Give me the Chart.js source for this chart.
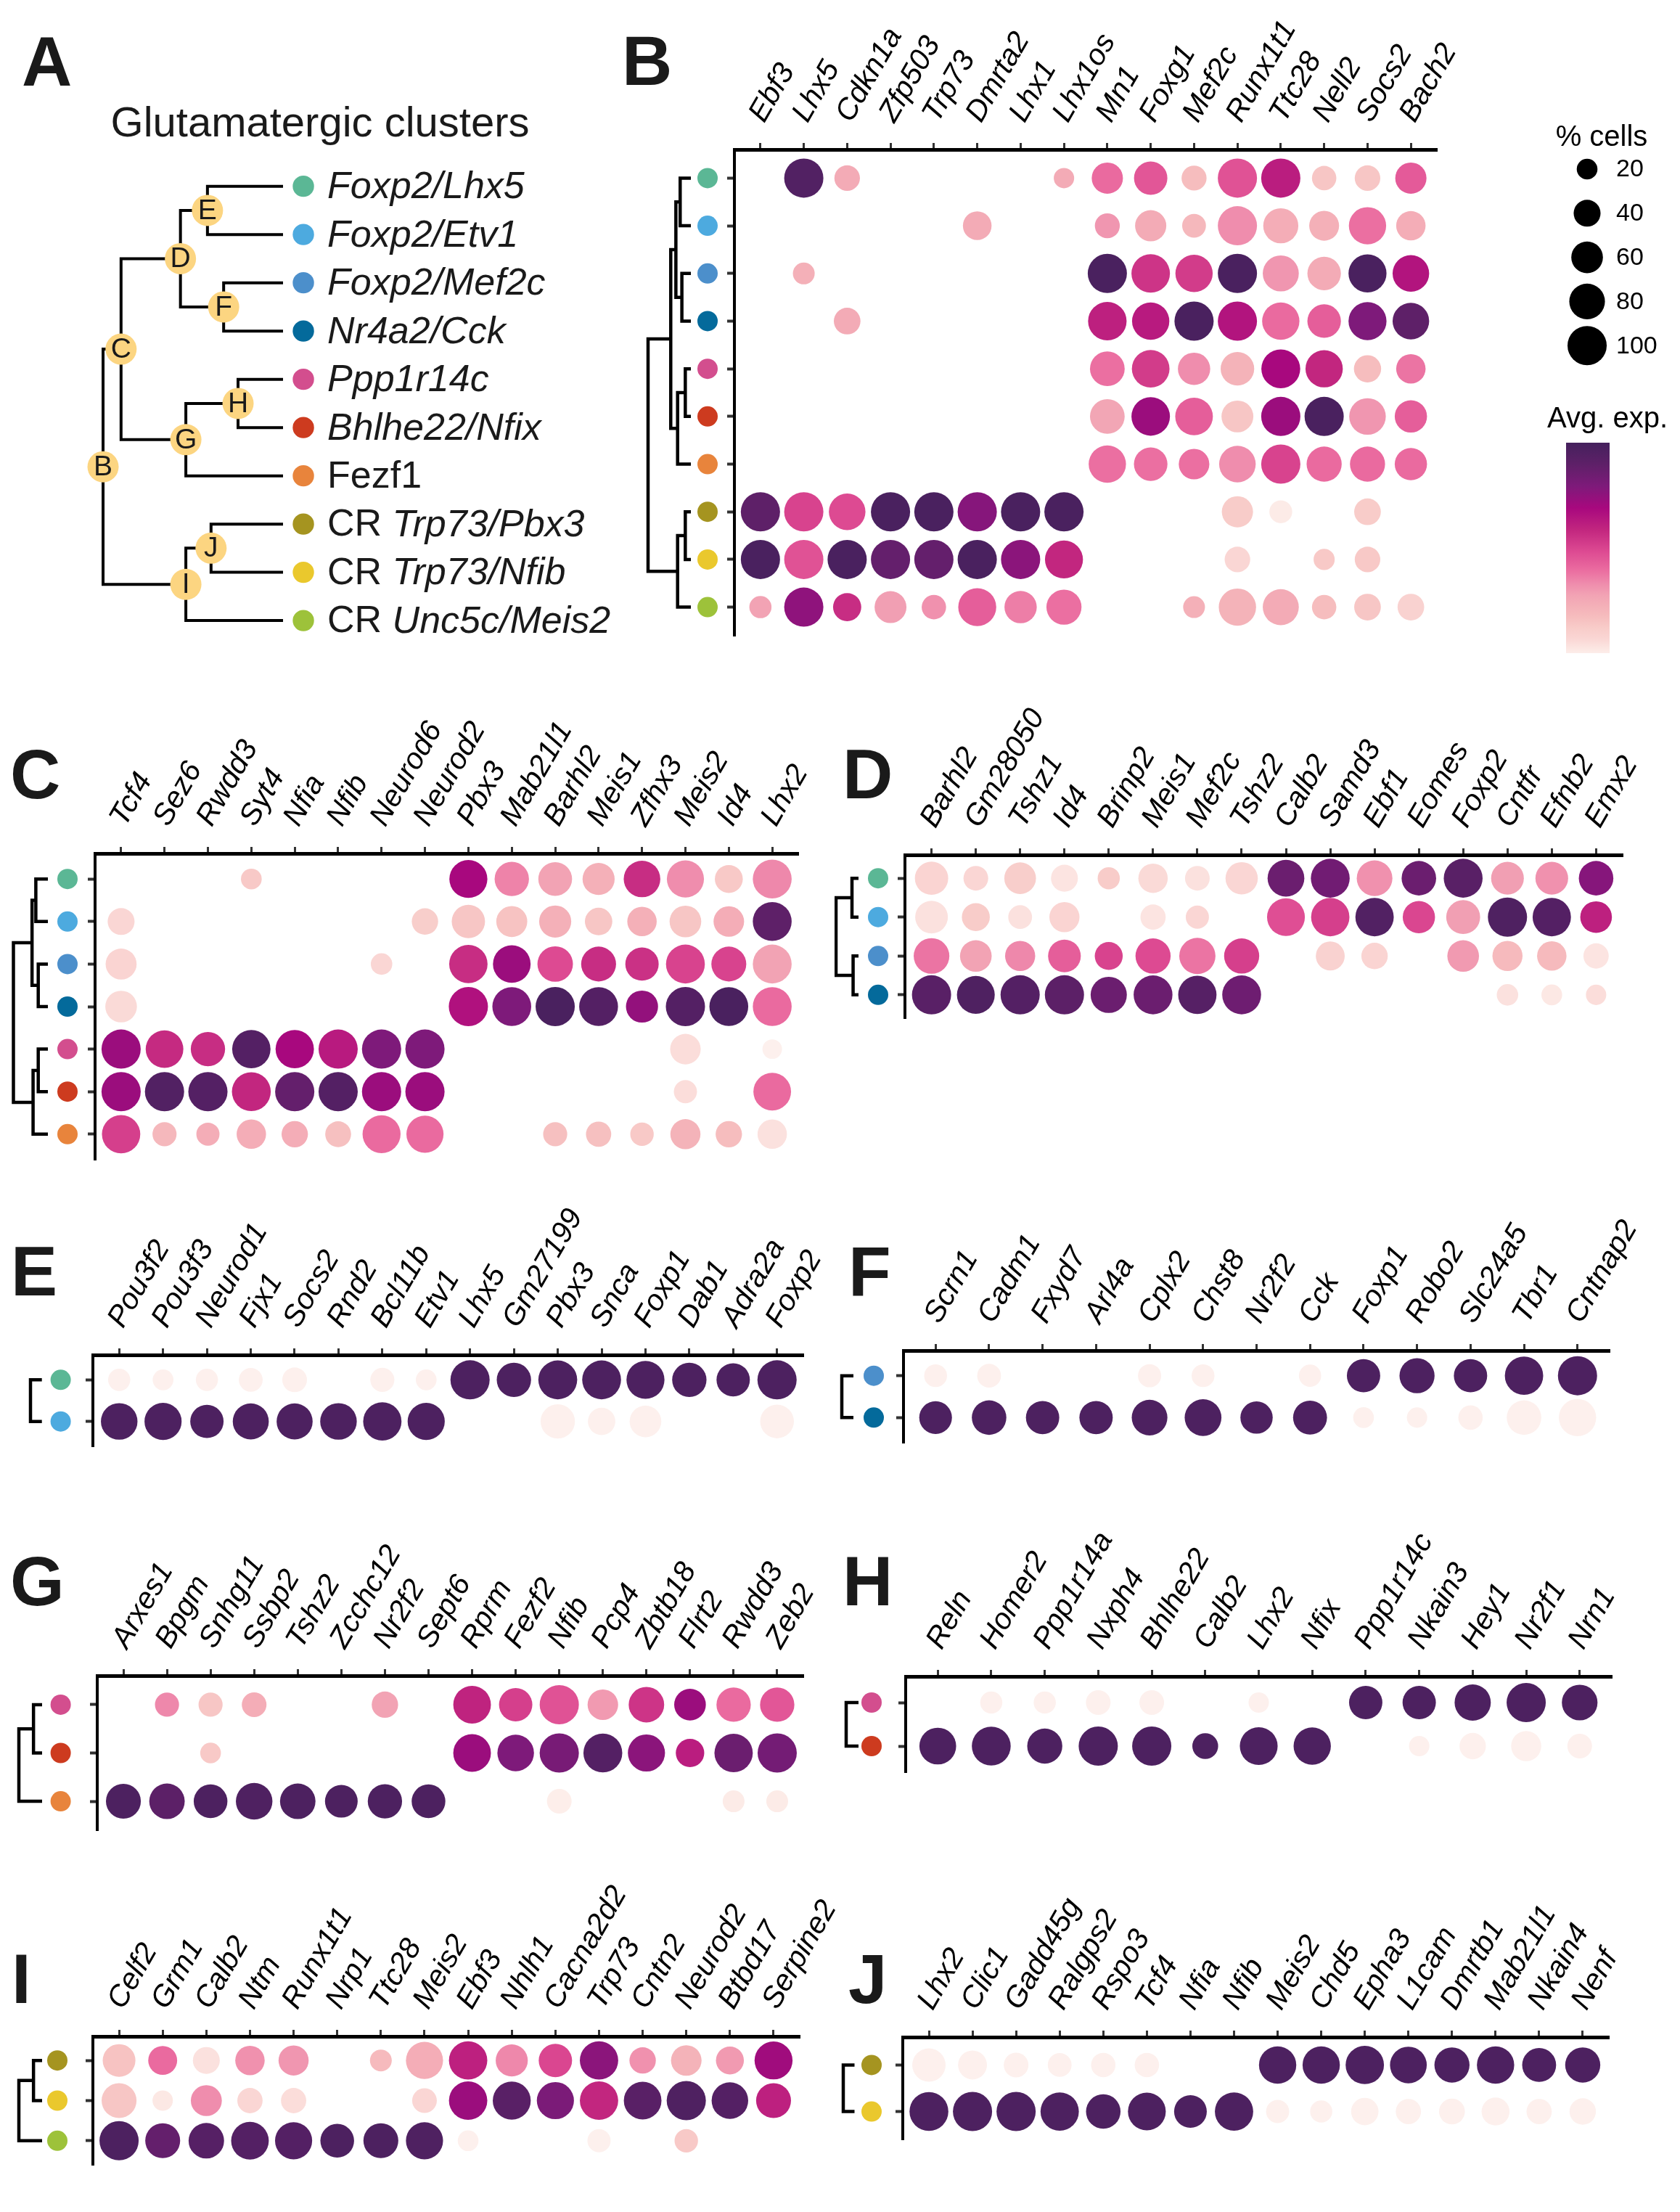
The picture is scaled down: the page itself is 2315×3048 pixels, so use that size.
<!DOCTYPE html>
<html>
<head>
<meta charset="utf-8">
<script src="https://cdn.jsdelivr.net/npm/chart.js"></script>
<style>
  html, body { margin: 0; padding: 0; background: #fff; }
  #page { position: relative; width: 2315px; height: 3048px; overflow: hidden; background: #fff; }
  #page canvas { position: absolute; }
</style>
</head>
<body>
<div id="page"></div>
<script>
const FONT = "'Liberation Sans', Arial, Helvetica, sans-serif";

// --- clusters (rows) ---
const clusterNames = ['Foxp2/Lhx5', 'Foxp2/Etv1', 'Foxp2/Mef2c', 'Nr4a2/Cck', 'Ppp1r14c', 'Bhlhe22/Nfix', 'Fezf1',
  'CR Trp73/Pbx3', 'CR Trp73/Nfib', 'CR Unc5c/Meis2'];
const clusterColors = ['#5BB795', '#4DAADF', '#4C8FCB', '#046A9B', '#D34E8E', '#CD3B1F', '#E8843C', '#A59420', '#EAC82D', '#9DC23A'];

// --- panel A tree (h = branch height, leaves = row index) ---
const treeA = { n: 'B', h: 0, c: [
  { n: 'C', h: 0.10, c: [
    { n: 'D', h: 0.43, c: [{ n: 'E', h: 0.58, c: [0, 1] }, { n: 'F', h: 0.67, c: [2, 3] }] },
    { n: 'G', h: 0.46, c: [{ n: 'H', h: 0.75, c: [4, 5] }, 6] }] },
  { n: 'I', h: 0.46, c: [{ n: 'J', h: 0.60, c: [7, 8] }, 9] }] };

// --- legend ---
const sizeBreaks = [20, 40, 60, 80, 100];
const expStops = [0, .05, .1, .15, .2, .25, .3, .35, .42, .5, .6, .7, .8, .9, 1];
const expColors = ['#FEF6F3', '#FCE8E4', '#FAD6D4', '#F8CCC9', '#F6BDBE', '#F4B0B8', '#F2A3B4', '#EF8DAD',
  '#EA6A9F', '#DD4A92', '#C2267F', '#A8087E', '#7E1A7A', '#5E2068', '#45215D'];

// --- panel B ---
const genesB = ['Ebf3', 'Lhx5', 'Cdkn1a', 'Zfp503', 'Trp73', 'Dmrta2', 'Lhx1', 'Lhx1os', 'Mn1', 'Foxg1', 'Mef2c', 'Runx1t1', 'Ttc28', 'Nell2', 'Socs2', 'Bach2'];
const rowsB = [0, 1, 2, 3, 4, 5, 6, 7, 8, 9];
const pctB = [
  [0, 100, 35, 0, 0, 0, 0, 19, 58, 68, 33, 100, 100, 31, 35, 58],
  [0, 0, 0, 0, 0, 47, 0, 0, 33, 58, 29, 100, 77, 52, 89, 50],
  [0, 23, 0, 0, 0, 0, 0, 0, 100, 96, 89, 100, 82, 69, 93, 85],
  [0, 0, 39, 0, 0, 0, 0, 0, 96, 89, 100, 100, 89, 69, 93, 85],
  [0, 0, 0, 0, 0, 0, 0, 0, 75, 91, 63, 69, 98, 89, 41, 50],
  [0, 0, 0, 0, 0, 0, 0, 0, 75, 96, 91, 61, 100, 100, 85, 63],
  [0, 0, 0, 0, 0, 0, 0, 0, 89, 69, 55, 85, 100, 77, 77, 63],
  [100, 100, 85, 100, 100, 100, 100, 100, 0, 0, 0, 58, 26, 0, 39, 0],
  [100, 100, 100, 100, 100, 100, 100, 93, 0, 0, 0, 35, 0, 21, 35, 0],
  [24, 100, 45, 61, 31, 93, 63, 77, 0, 0, 23, 89, 82, 31, 39, 39]];
const expB = [
  [0, .95, .27, 0, 0, 0, 0, .27, .42, .47, .2, .48, .63, .17, .17, .46],
  [0, 0, 0, 0, 0, .27, 0, 0, .33, .27, .22, .35, .26, .25, .41, .26],
  [0, .25, 0, 0, 0, 0, 0, 0, .98, .56, .54, .98, .33, .27, .98, .66],
  [0, 0, .27, 0, 0, 0, 0, 0, .62, .64, .98, .66, .42, .45, .8, .9],
  [0, 0, 0, 0, 0, 0, 0, 0, .41, .54, .35, .24, .7, .6, .2, .4],
  [0, 0, 0, 0, 0, 0, 0, 0, .29, .73, .45, .17, .73, .98, .33, .45],
  [0, 0, 0, 0, 0, 0, 0, 0, .41, .41, .41, .35, .52, .42, .42, .42],
  [.9, .52, .5, .98, .98, .78, .98, .98, 0, 0, 0, .15, .04, 0, .15, 0],
  [.98, .48, .98, .88, .88, .98, .77, .6, 0, 0, 0, .1, 0, .16, .16, 0],
  [.3, .76, .58, .31, .34, .45, .38, .41, 0, 0, .25, .24, .27, .2, .17, .12]];
const treeB = { h: 0, c: [
  { h: 0.53, c: [{ h: 0.65, c: [{ h: 0.75, c: [0, 1] }, { h: 0.79, c: [2, 3] }] }, { h: 0.69, c: [{ h: 0.87, c: [4, 5] }, 6] }] },
  { h: 0.69, c: [{ h: 0.87, c: [7, 8] }, 9] }] };

// --- panel C ---
const genesC = ['Tcf4', 'Sez6', 'Rwdd3', 'Syt4', 'Nfia', 'Nfib', 'Neurod6', 'Neurod2', 'Pbx3', 'Mab21l1', 'Barhl2', 'Meis1', 'Zfhx3', 'Meis2', 'Id4', 'Lhx2'];
const rowsC = [0, 1, 2, 3, 4, 5, 6];
const pctC = [
  [0, 0, 0, 20, 0, 0, 0, 0, 93, 73, 70, 62, 85, 88, 44, 98],
  [40, 0, 0, 0, 0, 0, 0, 38, 68, 57, 62, 42, 50, 60, 55, 98],
  [57, 0, 0, 0, 0, 0, 22, 0, 95, 91, 79, 76, 68, 98, 76, 98],
  [60, 0, 0, 0, 0, 0, 0, 0, 100, 98, 100, 98, 62, 100, 98, 98],
  [100, 91, 73, 95, 95, 100, 100, 100, 0, 0, 0, 0, 0, 55, 0, 17],
  [100, 100, 100, 98, 100, 100, 100, 100, 0, 0, 0, 0, 0, 27, 0, 91],
  [95, 30, 27, 50, 38, 36, 93, 88, 0, 0, 30, 34, 28, 53, 38, 50]];
const expC = [
  [0, 0, 0, .16, 0, 0, 0, 0, .7, .37, .3, .25, .58, .35, .16, .36],
  [.1, 0, 0, 0, 0, 0, 0, .14, .17, .18, .25, .17, .25, .17, .26, .9],
  [.11, 0, 0, 0, 0, 0, .1, 0, .58, .73, .5, .58, .57, .52, .52, .3],
  [.09, 0, 0, 0, 0, 0, 0, 0, .67, .8, .98, .94, .75, .94, .98, .42],
  [.73, .59, .58, .94, .7, .64, .8, .8, 0, 0, 0, 0, 0, .08, 0, .02],
  [.73, .95, .94, .6, .88, .94, .73, .73, 0, 0, 0, 0, 0, .08, 0, .42],
  [.53, .22, .26, .26, .26, .19, .42, .42, 0, 0, .19, .19, .16, .24, .2, .07]];
const treeC = { h: 0, c: [{ h: 0.54, c: [{ h: 0.65, c: [0, 1] }, { h: 0.72, c: [2, 3] }] }, { h: 0.57, c: [{ h: 0.72, c: [4, 5] }, 6] }] };

// --- panel D ---
const genesD = ['Barhl2', 'Gm28050', 'Tshz1', 'Id4', 'Brinp2', 'Meis1', 'Mef2c', 'Tshz2', 'Calb2', 'Samd3', 'Ebf1', 'Eomes', 'Foxp2', 'Cntfr', 'Efnb2', 'Emx2'];
const rowsD = [0, 1, 2, 3];
const pctD = [
  [68, 32, 60, 40, 24, 50, 32, 63, 86, 98, 80, 74, 98, 65, 65, 74],
  [65, 44, 29, 53, 0, 34, 27, 0, 92, 95, 95, 63, 71, 100, 95, 60],
  [80, 60, 53, 65, 44, 77, 83, 77, 0, 48, 38, 0, 60, 53, 50, 34],
  [100, 92, 100, 100, 83, 98, 95, 98, 0, 0, 0, 0, 0, 22, 20, 19]];
const expD = [
  [.11, .1, .14, .06, .15, .09, .07, .1, .86, .84, .34, .86, .92, .31, .34, .78],
  [.07, .15, .07, .11, 0, .06, .1, 0, .49, .53, .95, .51, .31, .96, .94, .62],
  [.4, .3, .36, .45, .52, .5, .4, .53, 0, .12, .11, 0, .32, .21, .21, .06],
  [.92, .96, .94, .91, .86, .86, .93, .85, 0, 0, 0, 0, 0, .07, .05, .08]];
const treeD = { h: 0, c: [{ h: 0.71, c: [0, 1] }, { h: 0.76, c: [2, 3] }] };

// --- panel E ---
const genesE = ['Pou3f2', 'Pou3f3', 'Neurod1', 'Fjx1', 'Socs2', 'Rnd2', 'Bcl11b', 'Etv1', 'Lhx5', 'Gm27199', 'Pbx3', 'Snca', 'Foxp1', 'Dab1', 'Adra2a', 'Foxp2'];
const rowsE = [0, 1];
const pctE = [
  [24, 20, 24, 29, 32, 0, 30, 20, 100, 73, 98, 98, 93, 73, 68, 100],
  [85, 88, 68, 82, 82, 85, 95, 88, 0, 0, 73, 42, 60, 0, 0, 70]];
const expE = [
  [.02, .02, .02, .02, .02, 0, .02, .02, .97, .97, .97, .97, .97, .97, .97, .97],
  [.97, .97, .97, .97, .97, .97, .97, .97, 0, 0, .02, .02, .02, 0, 0, .02]];
const treeE = { h: 0, c: [0, 1] };

// --- panel F ---
const genesF = ['Scrn1', 'Cadm1', 'Fxyd7', 'Arl4a', 'Cplx2', 'Chst8', 'Nr2f2', 'Cck', 'Foxp1', 'Robo2', 'Slc24a5', 'Tbr1', 'Cntnap2'];
const rowsF = [2, 3];
const pctF = [
  [26, 29, 0, 0, 27, 26, 0, 24, 68, 77, 68, 95, 100],
  [65, 74, 68, 68, 80, 86, 63, 71, 20, 19, 31, 74, 89]];
const expF = [
  [.02, .02, 0, 0, .02, .02, 0, .02, .97, .97, .97, .97, .97],
  [.97, .97, .97, .97, .97, .97, .97, .97, .02, .02, .02, .02, .02]];
const treeF = { h: 0, c: [0, 1] };

// --- panel G ---
const genesG = ['Arxes1', 'Bpgm', 'Snhg11', 'Ssbp2', 'Tshz2', 'Zcchc12', 'Nr2f2', 'Sept6', 'Rprm', 'Fezf2', 'Nfib', 'Pcp4', 'Zbtb18', 'Flrt2', 'Rwdd3', 'Zeb2'];
const rowsG = [4, 5, 6];
const pctG = [
  [0, 30, 30, 32, 0, 0, 38, 0, 91, 68, 100, 55, 79, 60, 73, 73],
  [0, 0, 20, 0, 0, 0, 0, 0, 91, 85, 100, 98, 88, 46, 95, 100],
  [76, 79, 70, 85, 79, 65, 73, 70, 0, 0, 32, 0, 0, 0, 23, 23]];
const expG = [
  [0, .36, .17, .26, 0, 0, .3, 0, .61, .53, .48, .32, .56, .73, .42, .47],
  [0, 0, .16, 0, 0, 0, 0, 0, .73, .8, .82, .94, .77, .63, .86, .83],
  [.97, .91, .97, .96, .97, .97, .97, .97, 0, 0, .03, 0, 0, 0, .04, .04]];
const treeG = { h: 0, c: [{ h: 0.63, c: [0, 1] }, 2] };

// --- panel H ---
const genesH = ['Reln', 'Homer2', 'Ppp1r14a', 'Nxph4', 'Bhlhe22', 'Calb2', 'Lhx2', 'Nfix', 'Ppp1r14c', 'Nkain3', 'Hey1', 'Nr2f1', 'Nrn1'];
const rowsH = [4, 5];
const pctH = [
  [0, 24, 24, 32, 32, 0, 19, 0, 68, 68, 83, 100, 80],
  [86, 98, 77, 100, 100, 36, 92, 89, 0, 19, 38, 53, 32]];
const expH = [
  [0, .02, .02, .02, .02, 0, .02, 0, .97, .97, .97, .97, .97],
  [.97, .97, .97, .97, .97, .97, .97, .97, 0, .02, .02, .02, .02]];
const treeH = { h: 0, c: [0, 1] };

// --- panel I ---
const genesI = ['Celf2', 'Grm1', 'Calb2', 'Ntm', 'Runx1t1', 'Nrp1', 'Ttc28', 'Meis2', 'Ebf3', 'Nhlh1', 'Cacna2d2', 'Trp73', 'Cntn2', 'Neurod2', 'Btbd17', 'Serpine2'];
const rowsI = [7, 8, 9];
const pctI = [
  [65, 48, 40, 50, 53, 0, 23, 88, 95, 62, 68, 95, 38, 55, 44, 93],
  [76, 19, 57, 34, 34, 0, 0, 32, 95, 93, 88, 95, 91, 100, 85, 76],
  [100, 76, 79, 91, 88, 70, 76, 88, 20, 0, 0, 27, 0, 28, 0, 0]];
const expI = [
  [.18, .42, .07, .34, .33, 0, .21, .26, .62, .36, .51, .77, .34, .24, .32, .72],
  [.17, .05, .35, .1, .08, 0, 0, .1, .73, .92, .81, .6, .92, .96, .94, .62],
  [.97, .88, .93, .94, .94, .97, .97, .96, .02, 0, 0, .02, 0, .16, 0, 0]];
const treeI = { h: 0, c: [{ h: 0.63, c: [0, 1] }, 2] };

// --- panel J ---
const genesJ = ['Lhx2', 'Clic1', 'Gadd45g', 'Ralgps2', 'Rspo3', 'Tcf4', 'Nfia', 'Nfib', 'Meis2', 'Chd5', 'Epha3', 'L1cam', 'Dmrtb1', 'Mab21l1', 'Nkain4', 'Nenf'];
const rowsJ = [7, 8];
const pctJ = [
  [68, 48, 32, 29, 31, 31, 0, 0, 89, 89, 95, 86, 77, 89, 71, 77],
  [98, 100, 100, 95, 74, 92, 65, 95, 27, 24, 42, 34, 36, 44, 34, 38]];
const expJ = [
  [.02, .02, .02, .02, .02, .02, 0, 0, .97, .97, .97, .97, .97, .97, .97, .97],
  [.97, .97, .97, .97, .97, .97, .97, .97, .02, .02, .02, .02, .02, .02, .02, .02]];
const treeJ = { h: 0, c: [0, 1] };

// ---------- helpers ----------
const page = document.getElementById('page');

function makeCanvas(l, t, w, h) {
  const c = document.createElement('canvas');
  c.width = w; c.height = h;
  c.style.left = l + 'px'; c.style.top = t + 'px';
  c.style.width = w + 'px'; c.style.height = h + 'px';
  page.appendChild(c);
  return c;
}

// bubble radius from % cells
const sizeFor = p => 4 + 23 * Math.sqrt(p / 100);

function hexRgb(h) {
  const n = parseInt(h.slice(1), 16);
  return [(n >> 16) & 255, (n >> 8) & 255, n & 255];
}
function expColor(e) {
  let i = 0;
  while (i < expStops.length - 2 && e > expStops[i + 1]) i++;
  const t = Math.min(1, Math.max(0, (e - expStops[i]) / (expStops[i + 1] - expStops[i])));
  const a = hexRgb(expColors[i]), b = hexRgb(expColors[i + 1]);
  const c = a.map((v, k) => Math.round(v + (b[k] - v) * t));
  return `rgb(${c[0]},${c[1]},${c[2]})`;
}

// dendrogram -> elbow polylines in (height, row) space
function layoutTree(tree, leafH) {
  const lines = [], nodes = [];
  (function walk(n) {
    if (typeof n === 'number') return { x: leafH, y: n };
    const kids = n.c.map(walk);
    const y = kids.reduce((s, k) => s + k.y, 0) / kids.length;
    const first = kids[0], last = kids[kids.length - 1];
    lines.push([{ x: first.x, y: first.y }, { x: n.h, y: first.y }, { x: n.h, y: last.y }, { x: last.x, y: last.y }]);
    nodes.push({ x: n.h, y: y, n: n.n });
    return { x: n.h, y: y };
  })(tree);
  return { lines, nodes };
}

function drawLetter(ctx, letter, x, y) {
  ctx.save();
  ctx.fillStyle = '#1a1a1a';
  ctx.font = `bold 96px ${FONT}`;
  ctx.textAlign = 'left';
  ctx.textBaseline = 'alphabetic';
  ctx.fillText(letter, x, y);
  ctx.restore();
}

// ---------- panel A: cluster tree ----------
(function () {
  const T = layoutTree(treeA, 1);
  const dotH = 1.113, labelH = 1.246;
  const cv = makeCanvas(0, 0, 860, 900);
  new Chart(cv, {
    type: 'scatter',
    data: {
      datasets: [
        ...T.lines.map(pts => ({
          data: pts, showLine: true, borderColor: '#000', borderWidth: 4,
          pointRadius: 0, pointHoverRadius: 0, borderJoinStyle: 'miter', borderCapStyle: 'butt', order: 3
        })),
        { data: T.nodes, pointRadius: 21.5, pointHoverRadius: 21.5, backgroundColor: '#FCD581', borderWidth: 0, order: 1 },
        { data: clusterNames.map((c, i) => ({ x: dotH, y: i })), pointRadius: 14.7, pointHoverRadius: 14.7,
          backgroundColor: clusterColors, borderWidth: 0, order: 1 }
      ]
    },
    options: {
      responsive: false, animation: false, devicePixelRatio: 1, events: [],
      layout: { padding: 0, autoPadding: false },
      plugins: { legend: { display: false }, tooltip: { enabled: false } },
      scales: {
        x: { type: 'linear', display: false, min: -0.5726, max: 2.895 },
        y: { type: 'linear', display: false, reverse: true, min: -3.86, max: 9.675 }
      }
    },
    plugins: [{
      id: 'treeText',
      afterDatasetsDraw(chart) {
        const ctx = chart.ctx, xs = chart.scales.x, ys = chart.scales.y;
        const meta = chart.getDatasetMeta(T.lines.length);
        ctx.save();
        ctx.fillStyle = '#1a1a1a';
        ctx.font = `39px ${FONT}`;
        ctx.textAlign = 'center';
        ctx.textBaseline = 'middle';
        meta.data.forEach((pt, k) => ctx.fillText(T.nodes[k].n, pt.x, pt.y + 1));
        ctx.textAlign = 'left';
        const lx = xs.getPixelForValue(labelH);
        clusterNames.forEach((name, i) => {
          const y = ys.getPixelForValue(i) + 2;
          let x = lx, rest = name;
          if (name.startsWith('CR ')) {
            ctx.font = `52px ${FONT}`;
            ctx.fillText('CR ', x, y);
            x += ctx.measureText('CR ').width;
            rest = name.slice(3);
          }
          ctx.font = (name === 'Fezf1' ? '' : 'italic ') + `52px ${FONT}`;
          ctx.fillText(rest, x, y);
        });
        ctx.textAlign = 'center';
        ctx.textBaseline = 'alphabetic';
        ctx.font = `58px ${FONT}`;
        ctx.fillText('Glutamatergic clusters', 441, 188);
        ctx.restore();
        drawLetter(ctx, 'A', 30, 118);
      }
    }]
  });
})();

// ---------- dot plots B-J ----------
function dotPlot(p) {
  const cv = makeCanvas(p.left, p.top, p.width, p.height);
  const pts = [];
  p.pct.forEach((row, j) => row.forEach((v, i) => {
    if (v > 0) pts.push({ x: i, y: j, r: sizeFor(v), e: p.exp[j][i] });
  }));
  const T = layoutTree(p.tree, 1);
  const ox = p.left, oy = p.top;
  return new Chart(cv, {
    type: 'bubble',
    data: {
      datasets: [{
        data: pts, clip: false, borderWidth: 0, hoverBorderWidth: 0,
        backgroundColor: c => expColor(c.raw ? c.raw.e : 0)
      }]
    },
    options: {
      responsive: false, animation: false, devicePixelRatio: 1, events: [],
      layout: {
        autoPadding: false,
        padding: { left: p.axisX - p.left - 12, top: 0, right: p.left + p.width - p.right, bottom: p.top + p.height - p.bottom }
      },
      plugins: { legend: { display: false }, tooltip: { enabled: false } },
      scales: {
        x: {
          type: 'linear', position: 'top', min: -0.6, max: p.genes.length - 0.4,
          afterBuildTicks: s => { s.ticks = p.genes.map((g, i) => ({ value: i })); },
          afterFit: s => { s.height = p.axisY - p.top; },
          ticks: {
            callback: v => p.genes[v], autoSkip: false, minRotation: 60, maxRotation: 60, padding: 20,
            labelOffset: 38, color: '#000', font: { family: FONT, size: 41, style: 'italic' }
          },
          grid: { drawOnChartArea: false, tickLength: 9, tickWidth: 3, tickColor: '#333' },
          border: { display: true, color: '#000', width: 5 }
        },
        y: {
          type: 'linear', reverse: true, min: -0.6, max: p.rows.length - 0.4,
          afterBuildTicks: s => { s.ticks = p.rows.map((r, i) => ({ value: i })); },
          afterFit: s => { s.width = 12; },
          ticks: { display: false },
          grid: { drawOnChartArea: false, tickLength: 10, tickWidth: 4, tickColor: '#333' },
          border: { display: true, color: '#000', width: 4 }
        }
      }
    },
    plugins: [{
      id: 'rowsTree',
      afterDraw(chart) {
        const ctx = chart.ctx, ys = chart.scales.y;
        const hx = h => p.rootX - ox + h * (p.leafX - p.rootX);
        ctx.save();
        ctx.strokeStyle = '#000';
        ctx.lineWidth = 4.5;
        ctx.lineJoin = 'miter';
        ctx.lineCap = 'butt';
        T.lines.forEach(line => {
          ctx.beginPath();
          line.forEach((q, k) => {
            const X = hx(q.x), Y = ys.getPixelForValue(q.y);
            if (k) ctx.lineTo(X, Y); else ctx.moveTo(X, Y);
          });
          ctx.stroke();
        });
        p.rows.forEach((ci, j) => {
          ctx.fillStyle = clusterColors[ci];
          ctx.beginPath();
          ctx.arc(p.dotX - ox, ys.getPixelForValue(j), 14, 0, Math.PI * 2);
          ctx.fill();
        });
        ctx.restore();
        drawLetter(ctx, p.letter, p.letterX - ox, p.letterY - oy);
        if (p.legend) p.legend(ctx, ox, oy);
      }
    }]
  });
}

function drawLegend(ctx, ox, oy) {
  ctx.save();
  ctx.fillStyle = '#000';
  ctx.textBaseline = 'middle';
  ctx.textAlign = 'center';
  ctx.font = `40px ${FONT}`;
  ctx.fillText('% cells', 2207 - ox, 190 - oy);
  sizeBreaks.forEach((v, k) => {
    const y = 233 + 60.8 * k - oy;
    ctx.beginPath();
    ctx.arc(2187 - ox, y, sizeFor(v), 0, Math.PI * 2);
    ctx.fill();
    ctx.textAlign = 'left';
    ctx.font = `34px ${FONT}`;
    ctx.fillText(String(v), 2227 - ox, y + 1);
  });
  ctx.textAlign = 'center';
  ctx.font = `40px ${FONT}`;
  ctx.fillText('Avg. exp.', 2215 - ox, 578 - oy);
  const g = ctx.createLinearGradient(0, 910 - oy, 0, 610 - oy);
  expStops.forEach((s, i) => g.addColorStop(s, expColors[i]));
  ctx.fillStyle = g;
  ctx.fillRect(2158 - ox, 610 - oy, 60, 300);
  ctx.restore();
}

dotPlot({ left: 850, top: 0, width: 1465, height: 900, axisX: 1012, axisY: 206, right: 1980, bottom: 876,
  genes: genesB, rows: rowsB, pct: pctB, exp: expB, tree: treeB, rootX: 893, leafX: 952, dotX: 975,
  letter: 'B', letterX: 857, letterY: 117, legend: drawLegend });
dotPlot({ left: 0, top: 960, width: 1180, height: 660, axisX: 131, axisY: 1176, right: 1100, bottom: 1598,
  genes: genesC, rows: rowsC, pct: pctC, exp: expC, tree: treeC, rootX: 18.5, leafX: 66, dotX: 93,
  letter: 'C', letterX: 14, letterY: 1100 });
dotPlot({ left: 1150, top: 960, width: 1165, height: 480, axisX: 1247, axisY: 1178, right: 2236, bottom: 1403,
  genes: genesD, rows: rowsD, pct: pctD, exp: expD, tree: treeD, rootX: 1152, leafX: 1183, dotX: 1210,
  letter: 'D', letterX: 1161, letterY: 1100 });
dotPlot({ left: 0, top: 1650, width: 1180, height: 370, axisX: 128, axisY: 1867, right: 1107, bottom: 1993,
  genes: genesE, rows: rowsE, pct: pctE, exp: expE, tree: treeE, rootX: 42, leafX: 57.7, dotX: 83.6,
  letter: 'E', letterX: 15, letterY: 1785 });
dotPlot({ left: 1150, top: 1650, width: 1165, height: 370, axisX: 1245, axisY: 1861, right: 2218, bottom: 1988,
  genes: genesF, rows: rowsF, pct: pctF, exp: expF, tree: treeF, rootX: 1160, leafX: 1176, dotX: 1204,
  letter: 'F', letterX: 1169, letterY: 1785 });
dotPlot({ left: 0, top: 2090, width: 1180, height: 460, axisX: 134, axisY: 2309, right: 1107, bottom: 2522,
  genes: genesG, rows: rowsG, pct: pctG, exp: expG, tree: treeG, rootX: 26, leafX: 58, dotX: 83.6,
  letter: 'G', letterX: 14, letterY: 2212 });
dotPlot({ left: 1150, top: 2090, width: 1165, height: 380, axisX: 1248, axisY: 2310, right: 2221, bottom: 2442,
  genes: genesH, rows: rowsH, pct: pctH, exp: expH, tree: treeH, rootX: 1166, leafX: 1183, dotX: 1201,
  letter: 'H', letterX: 1161, letterY: 2212 });
dotPlot({ left: 0, top: 2580, width: 1180, height: 440, axisX: 128, axisY: 2806, right: 1102, bottom: 2983,
  genes: genesI, rows: rowsI, pct: pctI, exp: expI, tree: treeI, rootX: 26, leafX: 58, dotX: 79,
  letter: 'I', letterX: 16, letterY: 2760 });
dotPlot({ left: 1150, top: 2580, width: 1165, height: 400, axisX: 1244, axisY: 2807, right: 2217, bottom: 2948,
  genes: genesJ, rows: rowsJ, pct: pctJ, exp: expJ, tree: treeJ, rootX: 1162, leafX: 1177.5, dotX: 1201,
  letter: 'J', letterX: 1169, letterY: 2760 });
</script>
</body>
</html>
